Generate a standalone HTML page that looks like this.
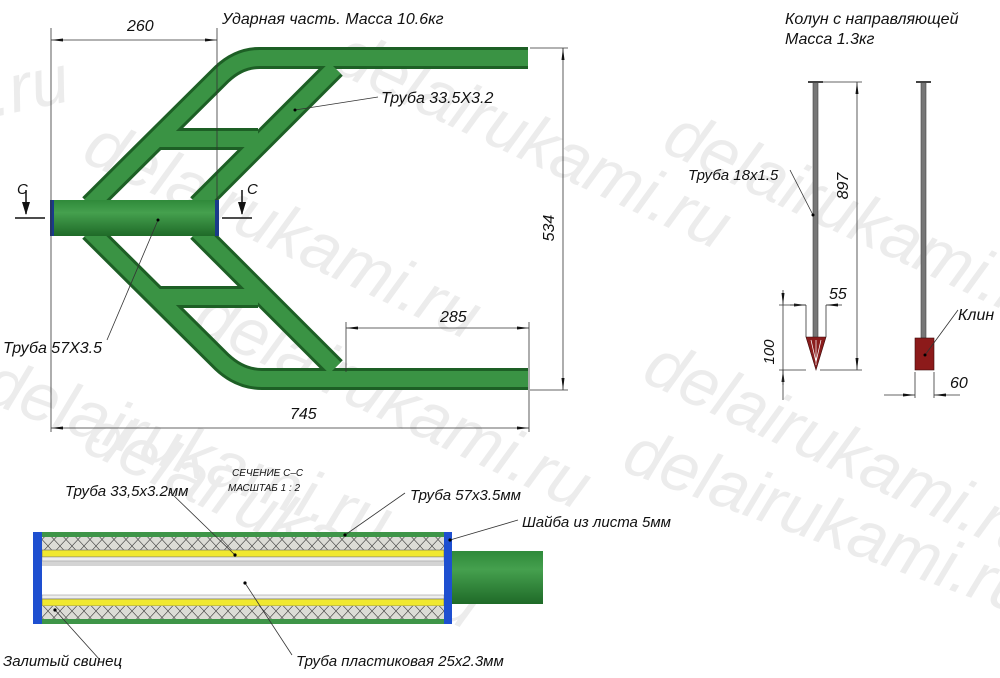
<!DOCTYPE html>
<html><head><meta charset="utf-8">
<style>
html,body{margin:0;padding:0;background:#fff;width:1000px;height:678px;overflow:hidden;}
svg{display:block;overflow:hidden;}
text{font-family:"Liberation Sans",sans-serif;font-style:italic;fill:#111;}
</style></head>
<body>
<svg width="1000" height="678" viewBox="0 0 1000 678" xmlns="http://www.w3.org/2000/svg">
<defs>
<clipPath id="clip"><rect x="0" y="0" width="1000" height="678"/></clipPath>
<linearGradient id="gh" x1="0" y1="0" x2="0" y2="1">
<stop offset="0" stop-color="#2f8a3a"/><stop offset="0.35" stop-color="#45a04e"/><stop offset="1" stop-color="#1f6a28"/></linearGradient>
<linearGradient id="gc" x1="0" y1="0" x2="0" y2="1">
<stop offset="0" stop-color="#fff"/><stop offset="0.15" stop-color="#bbb"/><stop offset="0.3" stop-color="#fff"/><stop offset="1" stop-color="#fff"/></linearGradient>
<pattern id="hx" width="12" height="13" patternUnits="userSpaceOnUse">
<rect width="12" height="13" fill="#dcdcd6"/>
<path d="M0 13 L12 0 M0 0 L12 13" stroke="#444" stroke-width="0.6"/></pattern>
<marker id="ar" markerWidth="12" markerHeight="6" refX="12" refY="3" orient="auto" markerUnits="userSpaceOnUse">
<path d="M0 1.5 L12 3 L0 4.5 Z" fill="#111"/></marker>
<marker id="al" markerWidth="12" markerHeight="6" refX="0" refY="3" orient="auto" markerUnits="userSpaceOnUse">
<path d="M12 1.5 L0 3 L12 4.5 Z" fill="#111"/></marker>
</defs>

<!-- watermarks -->
<g font-size="68" font-style="normal" clip-path="url(#clip)">
<text x="-20" y="120" transform="rotate(-12 -20 120)" style="fill:#ececec">i.ru</text>
<text x="330" y="70" transform="rotate(25 330 70)" style="fill:#ececec">delairukami.ru</text>
<text x="80" y="160" transform="rotate(25 80 160)" style="fill:#ececec">delairukami.ru</text>
<text x="660" y="150" transform="rotate(25 660 150)" style="fill:#ececec">delairukami.ru</text>
<text x="640" y="380" transform="rotate(25 640 380)" style="fill:#ececec">delairukami.ru</text>
<text x="-20" y="400" transform="rotate(20 -20 400)" style="fill:#ececec">delairukami.ru</text>
<text x="190" y="330" transform="rotate(25 190 330)" style="fill:#ececec">delairukami.ru</text>
<text x="620" y="470" transform="rotate(20 620 470)" style="fill:#ececec">delairukami.ru</text>
<text x="80" y="450" transform="rotate(25 80 450)" style="fill:#ececec">delairukami.ru</text>
</g>

<!-- frame tubes -->
<g fill="none" stroke-linecap="butt">
<g stroke="#1d5f25" stroke-width="22">
<path d="M90 205 L222 74 Q240 57 262 58 L528 58"/>
<path d="M198 205 L335 68"/>
<path d="M158 139 L258 139"/>
<path d="M90 231 L222 362 Q240 379 262 379 L528 379"/>
<path d="M198 231 L335 368"/>
<path d="M158 297 L258 297"/>
</g>
<g stroke="#3a9344" stroke-width="16">
<path d="M90 205 L222 74 Q240 57 262 58 L528 58"/>
<path d="M198 205 L335 68"/>
<path d="M158 139 L258 139"/>
<path d="M90 231 L222 362 Q240 379 262 379 L528 379"/>
<path d="M198 231 L335 368"/>
<path d="M158 297 L258 297"/>
</g>
</g>
<rect x="51" y="200" width="166" height="36" fill="url(#gh)"/>
<rect x="50" y="200" width="4" height="36" fill="#1a3a8a"/>
<rect x="215" y="200" width="4" height="36" fill="#1a3a8a"/>

<!-- dimensions frame -->
<g stroke="#333" stroke-width="0.8" fill="none">
<line x1="51" y1="28" x2="51" y2="432"/>
<line x1="217" y1="28" x2="217" y2="200"/>
<line x1="51" y1="40" x2="217" y2="40" marker-start="url(#al)" marker-end="url(#ar)"/>
<line x1="530" y1="48" x2="568" y2="48"/>
<line x1="530" y1="390" x2="568" y2="390"/>
<line x1="563" y1="48" x2="563" y2="390" marker-start="url(#al)" marker-end="url(#ar)"/>
<line x1="346" y1="322" x2="346" y2="372"/>
<line x1="529" y1="322" x2="529" y2="432"/>
<line x1="346" y1="328" x2="529" y2="328" marker-start="url(#al)" marker-end="url(#ar)"/>
<line x1="51" y1="428" x2="529" y2="428" marker-start="url(#al)" marker-end="url(#ar)"/>
<line x1="295" y1="110" x2="378" y2="97"/>
<line x1="158" y1="220" x2="107" y2="340"/>
</g>
<circle cx="295" cy="110" r="1.5"/><circle cx="158" cy="220" r="1.5"/>
<!-- section marks -->
<g stroke="#111" stroke-width="1.5">
<line x1="15" y1="218" x2="45" y2="218"/><line x1="26" y1="190" x2="26" y2="214"/>
<line x1="222" y1="218" x2="252" y2="218"/><line x1="242" y1="190" x2="242" y2="214"/>
</g>
<path d="M22 202 L26 215 L30 202 Z M238 202 L242 215 L246 202 Z" fill="#111"/>
<text x="17" y="194" font-size="15">С</text><text x="247" y="194" font-size="15">С</text>

<text x="127" y="31" font-size="16">260</text>
<text x="222" y="24" font-size="16">Ударная часть. Масса 10.6кг</text>
<text x="381" y="103" font-size="16">Труба 33.5X3.2</text>
<text x="3" y="353" font-size="16">Труба 57X3.5</text>
<text x="440" y="322" font-size="16">285</text>
<text x="290" y="419" font-size="16">745</text>
<text x="554" y="228" font-size="16" transform="rotate(-90 554 228)" text-anchor="middle">534</text>

<!-- right part -->
<text x="785" y="24" font-size="16">Колун с направляющей</text>
<text x="785" y="44" font-size="16">Масса 1.3кг</text>
<rect x="813" y="82" width="5" height="256" fill="#777" stroke="#444" stroke-width="0.6"/>
<line x1="808" y1="82" x2="823" y2="82" stroke="#444" stroke-width="2"/>
<path d="M806 337 L826 337 L816 370 Z" fill="#8a1c1c" stroke="#3a0a0a" stroke-width="0.6"/>
<path d="M816 340 L816 365 M811 340 L816 362 M821 340 L816 362" stroke="#fff" stroke-width="0.7"/>
<rect x="921" y="82" width="5" height="256" fill="#777" stroke="#444" stroke-width="0.6"/>
<line x1="916" y1="82" x2="931" y2="82" stroke="#444" stroke-width="2"/>
<rect x="915" y="338" width="19" height="32" fill="#8c1a1a" stroke="#3a0a0a" stroke-width="0.6"/>
<g stroke="#333" stroke-width="0.8" fill="none">
<line x1="823" y1="82" x2="862" y2="82"/><line x1="820" y1="370" x2="862" y2="370"/>
<line x1="857" y1="82" x2="857" y2="370" marker-start="url(#al)" marker-end="url(#ar)"/>
<line x1="806" y1="305" x2="806" y2="337"/><line x1="826" y1="305" x2="826" y2="337"/>
<line x1="790" y1="305" x2="806" y2="305" marker-end="url(#ar)"/>
<line x1="842" y1="305" x2="826" y2="305" marker-end="url(#ar)"/>
<line x1="779" y1="305" x2="806" y2="305"/><line x1="779" y1="370" x2="806" y2="370"/>
<line x1="783" y1="290" x2="783" y2="305" marker-end="url(#ar)"/>
<line x1="783" y1="385" x2="783" y2="370" marker-end="url(#ar)"/>
<line x1="783" y1="305" x2="783" y2="370"/>
<line x1="783" y1="370" x2="783" y2="400"/>
<line x1="915" y1="372" x2="915" y2="398"/><line x1="934" y1="372" x2="934" y2="398"/>
<line x1="884" y1="395" x2="915" y2="395" marker-end="url(#ar)"/>
<line x1="960" y1="395" x2="934" y2="395" marker-end="url(#ar)"/>
<line x1="813" y1="215" x2="790" y2="170"/>
<line x1="925" y1="355" x2="958" y2="310"/>
</g>
<circle cx="813" cy="215" r="1.5"/><circle cx="925" cy="355" r="1.5"/>
<text x="688" y="180" font-size="15">Труба 18x1.5</text>
<text x="848" y="186" font-size="16" transform="rotate(-90 848 186)" text-anchor="middle">897</text>
<text x="829" y="299" font-size="16">55</text>
<text x="774" y="352" font-size="15" transform="rotate(-90 774 352)" text-anchor="middle">100</text>
<text x="958" y="320" font-size="16">Клин</text>
<text x="950" y="388" font-size="16">60</text>

<!-- section C-C -->
<rect x="452" y="551" width="91" height="53" fill="url(#gh)"/>
<rect x="42" y="532" width="402" height="92" fill="url(#gc)"/>
<rect x="42" y="532" width="402" height="5" fill="#3e9548"/>
<rect x="42" y="537" width="402" height="13" fill="url(#hx)"/>
<rect x="42" y="550" width="402" height="7" fill="#f0e830" stroke="#666" stroke-width="0.6"/>
<rect x="42" y="557" width="402" height="4" fill="#eee" stroke="#888" stroke-width="0.5"/>
<rect x="42" y="561" width="402" height="5" fill="#aaa" opacity="0.5"/>
<rect x="42" y="595" width="402" height="4" fill="#eee" stroke="#888" stroke-width="0.5"/>
<rect x="42" y="599" width="402" height="7" fill="#f0e830" stroke="#666" stroke-width="0.6"/>
<rect x="42" y="606" width="402" height="13" fill="url(#hx)"/>
<rect x="42" y="619" width="402" height="5" fill="#3e9548"/>
<rect x="33" y="532" width="9" height="92" fill="#1e4fd0"/>
<rect x="444" y="532" width="8" height="92" fill="#1e4fd0"/>
<g stroke="#333" stroke-width="0.8">
<line x1="170" y1="492" x2="235" y2="555"/>
<line x1="345" y1="535" x2="405" y2="493"/>
<line x1="450" y1="540" x2="518" y2="520"/>
<line x1="55" y1="610" x2="100" y2="660"/>
<line x1="245" y1="583" x2="292" y2="655"/>
</g>
<circle cx="235" cy="555" r="1.6"/><circle cx="345" cy="535" r="1.6"/><circle cx="55" cy="610" r="1.6"/><circle cx="245" cy="583" r="1.6"/><circle cx="450" cy="540" r="1.6"/>
<text x="65" y="496" font-size="15">Труба 33,5x3.2мм</text>
<text x="232" y="476" font-size="10">СЕЧЕНИЕ С–С</text>
<text x="228" y="491" font-size="10">МАСШТАБ 1 : 2</text>
<text x="410" y="500" font-size="15">Труба 57x3.5мм</text>
<text x="522" y="527" font-size="15">Шайба из листа 5мм</text>
<text x="3" y="666" font-size="15">Залитый свинец</text>
<text x="296" y="666" font-size="15">Труба пластиковая 25x2.3мм</text>
</svg>
</body></html>
